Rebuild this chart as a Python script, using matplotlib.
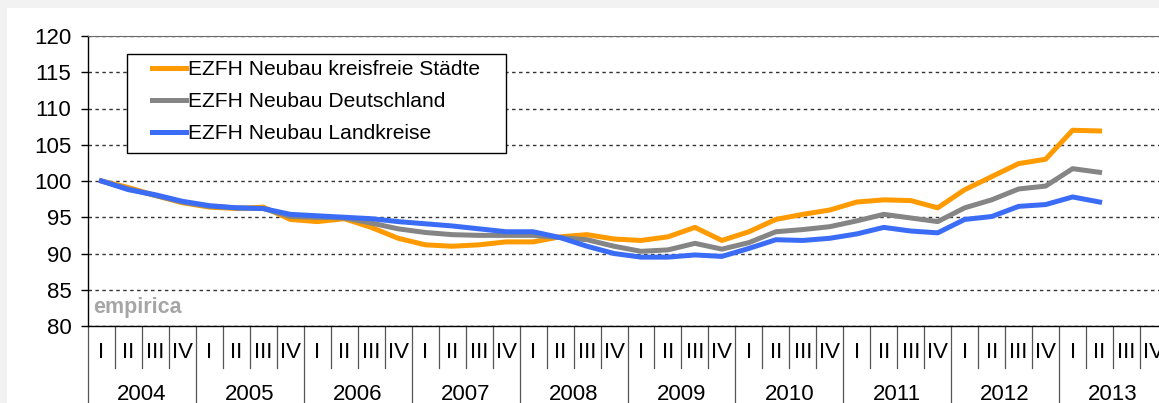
import matplotlib.pyplot as plt
from matplotlib.patches import Rectangle

# Quarterly price index, EZFH Neubau (2004 I = 100)
years = ["2004", "2005", "2006", "2007", "2008", "2009", "2010", "2011", "2012", "2013"]
quarters = ["I", "II", "III", "IV"]

kreisfreie = [100.0, 99.1, 98.0, 97.0,
              96.4, 96.2, 96.4, 94.7,
              94.4, 94.8, 93.6, 92.1,
              91.2, 91.0, 91.2, 91.6,
              91.6, 92.3, 92.6, 92.0,
              91.8, 92.3, 93.6, 91.8,
              93.0, 94.7, 95.4, 96.0,
              97.1, 97.4, 97.3, 96.3,
              98.8, 100.6, 102.4, 103.0,
              107.0, 106.9]
deutschland = [100.0, 98.9, 98.0, 97.1,
               96.5, 96.3, 96.2, 95.1,
               95.0, 94.9, 94.2, 93.4,
               92.9, 92.6, 92.5, 92.5,
               92.5, 92.2, 91.9, 91.0,
               90.3, 90.5, 91.4, 90.6,
               91.5, 93.0, 93.3, 93.7,
               94.5, 95.4, 94.9, 94.4,
               96.3, 97.4, 98.9, 99.3,
               101.7, 101.2]
landkreise = [100.0, 98.8, 98.1, 97.2,
              96.6, 96.3, 96.2, 95.4,
              95.2, 95.0, 94.8, 94.4,
              94.1, 93.8, 93.4, 93.0,
              93.0, 92.2, 91.0, 90.0,
              89.5, 89.5, 89.8, 89.6,
              90.7, 91.9, 91.8, 92.1,
              92.7, 93.6, 93.1, 92.85,
              94.7, 95.1, 96.5, 96.75,
              97.8, 97.1]

plt.rcParams["font.family"] = ["Liberation Sans", "DejaVu Sans"]
FS = 15.5

W, H = 1159, 403
fig = plt.figure(figsize=(W / 100, H / 100), dpi=100)
fig.patch.set_facecolor("#f2f2f2")
fig.add_artist(Rectangle((7 / W, 0), 1, (H - 8) / H, transform=fig.transFigure,
                         facecolor="white", edgecolor="none", zorder=0))

# axes run past the right edge, like the cropped original
ax = fig.add_axes([88 / W, (H - 326) / H, 1079 / W, 290 / H])
ax.set_facecolor("none")
ax.set_xlim(0, 40)
ax.set_ylim(80, 120)

n_q = len(years) * len(quarters)
x = [i + 0.5 for i in range(len(kreisfreie))]

ax.plot(x, kreisfreie, color="#FF9A00", lw=3.6, label="EZFH Neubau kreisfreie Städte", zorder=3)
ax.plot(x, deutschland, color="#858585", lw=3.6, label="EZFH Neubau Deutschland", zorder=4)
ax.plot(x, landkreise, color="#3B6CF6", lw=3.6, label="EZFH Neubau Landkreise", zorder=5)

ax.set_yticks(range(80, 121, 5))
ax.yaxis.grid(True, color="#333333", lw=1, ls=(0, (2.5, 2.5)), zorder=1)
ax.tick_params(axis="y", length=5, width=1, pad=7, labelsize=FS + 0.5, colors="black")
ax.set_xticks([])

for s in ["left", "bottom"]:
    ax.spines[s].set_color("black")
    ax.spines[s].set_linewidth(1)
ax.spines["top"].set_color("#6a6a6a")
ax.spines["right"].set_visible(False)

# two-level category axis: quarters and years
tr = ax.get_xaxis_transform()
q_bot = -(368 - 326) / 290
y_bot = -(420 - 326) / 290
for k in range(n_q + 1):
    ax.plot([k, k], [0, y_bot if k % 4 == 0 else q_bot], transform=tr,
            color="#555555", lw=0.9, clip_on=False)
for k in range(n_q):
    ax.text(k + 0.5, -(352 - 326) / 290, quarters[k % 4], transform=tr,
            ha="center", va="center", fontsize=FS + 0.5)
for j, yr in enumerate(years):
    ax.text(j * 4 + 2, -(394 - 326) / 290, yr, transform=tr,
            ha="center", va="center", fontsize=FS + 0.5)

ax.text((93 - 88) / 1079, (326 - 308) / 290, "empirica", transform=ax.transAxes,
        ha="left", va="center", fontsize=FS, fontweight="bold", color="#a6a6a6")

# legend with its own frame
ax.add_patch(Rectangle(((127 - 88) / 1079, (326 - 153) / 290), (506 - 127) / 1079, (153 - 54) / 290,
                       transform=ax.transAxes, facecolor="white", edgecolor="black",
                       lw=1, zorder=6))
leg = ax.legend(loc="upper left", bbox_to_anchor=((152 - 88) / 1079, (326 - 60) / 290),
                frameon=False, fontsize=FS - 0.4, handlelength=1.6, handletextpad=0.1,
                borderaxespad=0, borderpad=0, labelspacing=0.62)
leg.set_zorder(7)

fig.savefig("out.png", dpi=100, facecolor=fig.get_facecolor())
